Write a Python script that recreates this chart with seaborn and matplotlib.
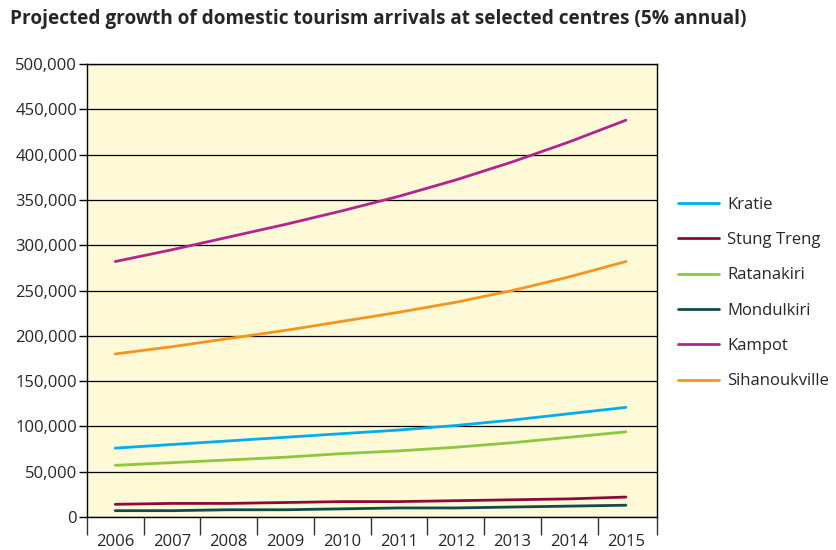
import matplotlib
matplotlib.use("Agg")
import matplotlib.pyplot as plt
import matplotlib.ticker as mticker
import seaborn as sns
import pandas as pd

# Dados (chegadas em milhares)
anos = [2006, 2007, 2008, 2009, 2010, 2011, 2012, 2013, 2014, 2015]
kratie = [76, 80, 84, 88, 92, 96, 101, 107, 114, 121]
stung_treng = [14, 15, 15, 16, 17, 17, 18, 19, 20, 22]
ratanakiri = [57, 60, 63, 66, 70, 73, 77, 82, 88, 94]
mondulkiri = [7, 7, 8, 8, 9, 10, 10, 11, 12, 13]
kampot = [282, 295, 309, 323, 338, 354, 372, 392, 414, 438]
sihanoukville = [180, 188, 197, 206, 216, 226, 237, 250, 265, 282]

series = {
    'Kratie': kratie,
    'Stung Treng': stung_treng,
    'Ratanakiri': ratanakiri,
    'Mondulkiri': mondulkiri,
    'Kampot': kampot,
    'Sihanoukville': sihanoukville,
}
cores = {
    'Kratie': '#00AEEF',
    'Stung Treng': '#8B0A3A',
    'Ratanakiri': '#8DC63F',
    'Mondulkiri': '#0E4D4E',
    'Kampot': '#B5248E',
    'Sihanoukville': '#F7941D',
}

linhas = []
for nome, valores in series.items():
    for ano, v in zip(anos, valores):
        linhas.append({'Ano': ano, 'Chegadas': v * 1000, 'Centro': nome})
df = pd.DataFrame(linhas)

sns.set_theme(style="white")
plt.rcParams['font.family'] = ['Open Sans', 'DejaVu Sans']

fig = plt.figure(figsize=(8.36, 5.5), dpi=100)
ax = fig.add_axes([0.104, 0.06, 0.682, 0.8236])
ax.set_facecolor('#FEF9D7')

sns.lineplot(data=df, x='Ano', y='Chegadas', hue='Centro', palette=cores,
             hue_order=list(series.keys()), linewidth=2, ax=ax)

# Eixo y
ax.set_ylim(0, 500000)
ax.yaxis.set_major_locator(mticker.MultipleLocator(50000))
ax.yaxis.set_major_formatter(mticker.FuncFormatter(lambda v, p: f'{int(v):,}'))
ax.grid(axis='y', color='black', linewidth=0.9)
ax.tick_params(axis='y', which='major', length=6, width=1, color='black', pad=1,
               labelsize=12, left=True)

# Eixo x: marcas entre categorias, rótulos no centro
ax.xaxis.set_major_locator(mticker.FixedLocator([a - 0.5 for a in anos] + [2015.55]))
ax.xaxis.set_major_formatter(mticker.NullFormatter())
ax.xaxis.set_minor_locator(mticker.FixedLocator(anos))
ax.xaxis.set_minor_formatter(mticker.FixedFormatter([str(a) for a in anos]))
ax.tick_params(axis='x', which='major', length=13, width=1, color='#333333', bottom=True)
ax.tick_params(axis='x', which='minor', length=0, pad=12, labelsize=12)
ax.set_xlim(2005.5, 2015.55)

for s in ax.spines.values():
    s.set_color('black')
    s.set_linewidth(1)

ax.set_xlabel('')
ax.set_ylabel('')

# Legenda fora do gráfico, sem moldura
ax.legend(loc='upper left', bbox_to_anchor=(1.01, 0.74), frameon=False,
          fontsize=12, handlelength=2.5, labelspacing=1.16, handletextpad=0.45)

fig.text(0.012, 0.966, 'Projected growth of domestic tourism arrivals at selected centres (5% annual)',
         fontsize=13.7, fontweight='bold', ha='left', va='center')

fig.savefig('out.png', dpi=100)
